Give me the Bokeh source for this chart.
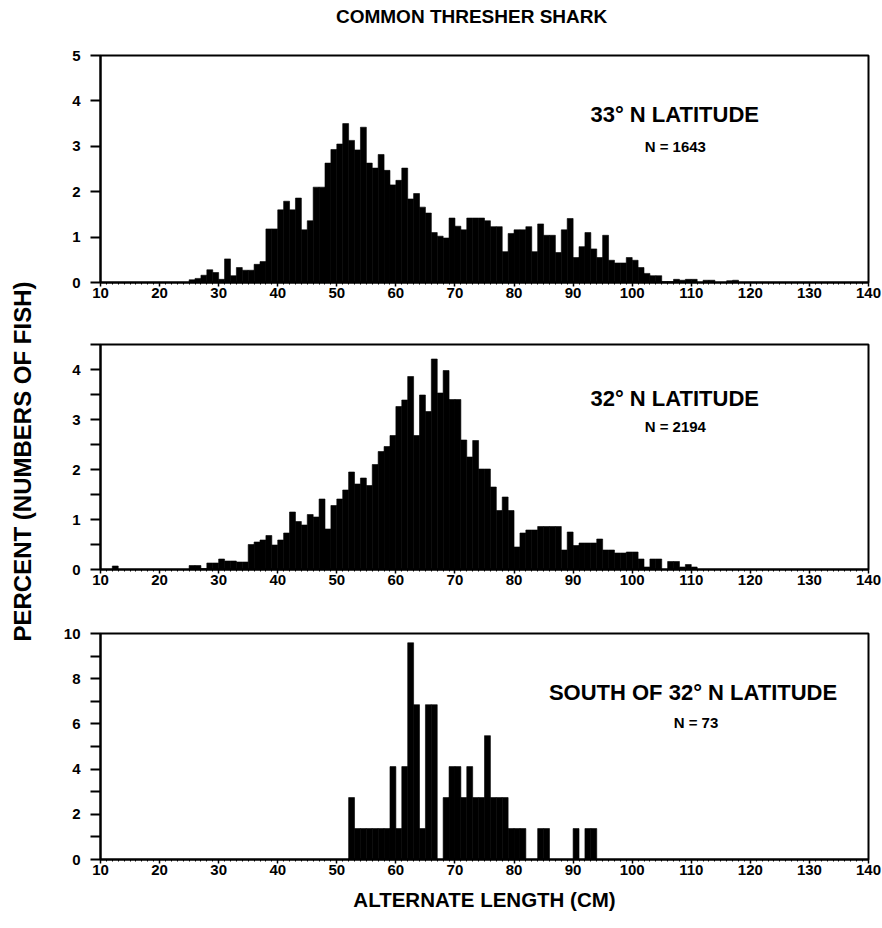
from math import pi
import numpy as np
from bokeh.plotting import figure
from bokeh.layouts import column, row
from bokeh.models import Label, FixedTicker, Range1d, ColumnDataSource
from bokeh.core.properties import value
from bokeh.embed import file_html
from bokeh.resources import INLINE

FONT = "Liberation Sans"

title_text = "COMMON THRESHER SHARK"
x_label = "ALTERNATE LENGTH (CM)"
y_label = "PERCENT (NUMBERS OF FISH)"
x_ticks = list(range(10, 141, 10))
x_minor_ticks = list(range(10, 141))

# ---- 33 deg N latitude (N = 1643): 1-cm bins starting at 25 cm ----
start_33 = 25
pct_33 = [
    0.06, 0.09, 0.16, 0.28, 0.22, 0.07, 0.52, 0.15, 0.33, 0.27,   # 25-34
    0.27, 0.40, 0.46, 1.18, 1.18, 1.60, 1.79, 1.60, 1.86, 1.16,   # 35-44
    1.36, 2.10, 2.10, 2.63, 2.93, 3.05, 3.50, 3.13, 2.92, 3.42,   # 45-54
    2.63, 2.52, 2.82, 2.47, 2.15, 2.25, 2.52, 1.84, 1.96, 1.66,   # 55-64
    1.53, 1.10, 1.02, 0.98, 1.42, 1.24, 1.16, 1.42, 1.42, 1.42,   # 65-74
    1.36, 1.23, 1.23, 0.68, 1.08, 1.16, 1.16, 1.23, 0.68, 1.29,   # 75-84
    1.04, 1.04, 0.66, 1.16, 1.41, 0.55, 0.79, 1.10, 0.74, 0.55,   # 85-94
    1.04, 0.49, 0.43, 0.43, 0.55, 0.49, 0.33, 0.20, 0.15, 0.15,   # 95-104
    0.02, 0.02, 0.07, 0.05, 0.07, 0.07, 0.00, 0.05, 0.05, 0.00,   # 105-114
    0.00, 0.04, 0.05,                                             # 115-117
]

# ---- 32 deg N latitude (N = 2194): 1-cm bins starting at 10 cm ----
start_32 = 10
pct_32 = [
    0.00, 0.00, 0.07, 0.00, 0.00, 0.00, 0.00, 0.00, 0.00, 0.00,   # 10-19
    0.00, 0.00, 0.00, 0.00, 0.00, 0.08, 0.08, 0.02, 0.13, 0.13,   # 20-29
    0.21, 0.17, 0.17, 0.15, 0.15, 0.50, 0.55, 0.59, 0.68, 0.49,   # 30-39
    0.59, 0.73, 1.15, 0.96, 0.89, 1.10, 1.05, 1.41, 0.81, 1.28,   # 40-49
    1.41, 1.59, 1.95, 1.71, 1.83, 1.68, 2.10, 2.36, 2.46, 2.68,   # 50-59
    3.26, 3.39, 3.86, 2.68, 3.49, 3.16, 4.21, 3.53, 3.98, 3.40,   # 60-69
    3.40, 2.59, 2.25, 2.58, 2.01, 2.01, 1.65, 1.18, 1.45, 1.18,   # 70-79
    0.45, 0.73, 0.79, 0.79, 0.86, 0.86, 0.86, 0.86, 0.39, 0.75,   # 80-89
    0.48, 0.53, 0.53, 0.53, 0.61, 0.39, 0.39, 0.33, 0.33, 0.35,   # 90-99
    0.35, 0.21, 0.05, 0.21, 0.21, 0.00, 0.16, 0.16, 0.05, 0.10,   # 100-109
    0.05,                                                         # 110
]

# ---- South of 32 deg N (N = 73): 1-cm bins starting at 52 cm ----
start_s = 52
pct_s = [
    2.74, 1.37, 1.37, 1.37, 1.37, 1.37, 1.37, 4.11, 1.37, 4.11,   # 52-61
    9.59, 6.85, 1.37, 6.85, 6.85, 0.00, 2.74, 4.11, 4.11, 2.74,   # 62-71
    4.11, 2.74, 2.74, 5.48, 2.74, 2.74, 2.74, 1.37, 1.37, 1.37,   # 72-81
    0.00, 0.00, 1.37, 1.37, 0.00, 0.00, 0.00, 0.00, 1.37, 0.00,   # 82-91
    1.37, 1.37,                                                   # 92-93
]

panel_titles = ["33° N LATITUDE", "32° N LATITUDE", "SOUTH OF 32° N LATITUDE"]
panel_ns = ["N = 1643", "N = 2194", "N = 73"]

PANEL_W = 834


def style_axes(p, y_major, y_minor):
    p.xgrid.visible = False
    p.ygrid.visible = False
    p.outline_line_color = "black"
    p.outline_line_width = 2
    p.background_fill_color = "white"
    p.border_fill_color = "white"

    xa = p.xaxis[0]
    xa.ticker = FixedTicker(ticks=x_ticks, minor_ticks=x_minor_ticks)
    xa.axis_line_width = 2
    xa.major_tick_in = 0
    xa.major_tick_out = 4
    xa.major_tick_line_width = 1.5
    xa.minor_tick_in = 0
    xa.minor_tick_out = 2
    xa.minor_tick_line_width = 1
    xa.major_label_standoff = 1
    xa.major_label_text_font = FONT
    xa.major_label_text_font_style = "bold"
    xa.major_label_text_font_size = "15px"
    xa.major_label_text_color = "black"

    ya = p.yaxis[0]
    ya.ticker = FixedTicker(ticks=y_major, minor_ticks=y_minor)
    ya.axis_line_width = 2
    ya.major_tick_in = 0
    ya.major_tick_out = 10
    ya.major_tick_line_width = 2
    ya.minor_tick_in = 0
    ya.minor_tick_out = 10
    ya.minor_tick_line_width = 2
    ya.major_label_standoff = 10
    ya.major_label_text_font = FONT
    ya.major_label_text_font_style = "bold"
    ya.major_label_text_font_size = "15px"
    ya.major_label_text_color = "black"


def make_panel(start, pct, y_end, y_major, y_minor, title, ntext,
               lab_x, lab_y, n_x, n_y, height, b_top, b_bot):
    p = figure(width=PANEL_W, height=height,
               x_range=Range1d(10, 140), y_range=Range1d(0, y_end),
               output_backend="svg", toolbar_location=None,
               min_border_left=52, min_border_right=14,
               min_border_top=b_top, min_border_bottom=b_bot)
    vals = np.array(pct, dtype=float)
    lefts = start + np.arange(len(vals))
    keep = vals > 0
    src = ColumnDataSource(dict(left=lefts[keep], right=lefts[keep] + 1,
                                top=vals[keep], bottom=np.zeros(keep.sum())))
    p.quad(left="left", right="right", top="top", bottom="bottom", source=src,
           fill_color="black", line_color="black", line_width=0.6)
    style_axes(p, y_major, y_minor)
    p.add_layout(Label(x=lab_x, y=lab_y, text=title, text_align="center",
                       text_baseline="middle", text_font=FONT,
                       text_font_style="bold", text_font_size="22px",
                       text_color="black"))
    p.add_layout(Label(x=n_x, y=n_y, text=ntext, text_align="center",
                       text_baseline="middle", text_font=FONT,
                       text_font_style="bold", text_font_size="15px",
                       text_color="black"))
    return p


# title strip (its own canvas so the text is never clipped)
TITLE_H = 32
pt = figure(width=PANEL_W, height=TITLE_H, x_range=Range1d(0, PANEL_W),
            y_range=Range1d(0, TITLE_H), x_axis_type=None, y_axis_type=None,
            output_backend="svg", toolbar_location=None, min_border=0)
pt.outline_line_color = None
pt.xgrid.visible = False
pt.ygrid.visible = False
pt.text(x=[403], y=[TITLE_H / 2], text=[title_text], text_align="center",
        text_baseline="middle", text_font=value(FONT), text_font_style="bold",
        text_font_size="19px", text_color="black")

p1 = make_panel(start_33, pct_33, 5, [0, 1, 2, 3, 4, 5], [],
                panel_titles[0], panel_ns[0], 107.2, 3.70, 107.3, 3.0,
                278, 23, 28)

p2 = make_panel(start_32, pct_32, 4.5, [0, 1, 2, 3, 4], [0.5, 1.5, 2.5, 3.5, 4.5],
                panel_titles[1], panel_ns[1], 107.2, 3.42, 107.3, 2.86,
                290, 34, 31)

p3 = make_panel(start_s, pct_s, 10, [0, 2, 4, 6, 8, 10], [1, 3, 5, 7, 9],
                panel_titles[2], panel_ns[2], 110.3, 7.41, 110.8, 6.06,
                315, 33, 56)
p3.xaxis.axis_label = x_label
p3.xaxis.axis_label_standoff = 10
p3.xaxis.axis_label_text_font = FONT
p3.xaxis.axis_label_text_font_style = "bold"
p3.xaxis.axis_label_text_font_size = "20.5px"
p3.xaxis.axis_label_text_color = "black"

total_h = TITLE_H + 278 + 290 + 315
pl = figure(width=48, height=total_h, x_range=Range1d(0, 48),
            y_range=Range1d(0, total_h), x_axis_type=None, y_axis_type=None,
            output_backend="svg", toolbar_location=None, min_border=0)
pl.outline_line_color = None
pl.xgrid.visible = False
pl.ygrid.visible = False
pl.text(x=[22], y=[total_h - 461], text=[y_label], angle=pi / 2,
        text_align="center", text_baseline="middle",
        text_font=value(FONT), text_font_style="bold",
        text_font_size="24px", text_color="black")

layout = row(pl, column(pt, p1, p2, p3))

with open("out.html", "w") as f:
    f.write(file_html(layout, INLINE))
